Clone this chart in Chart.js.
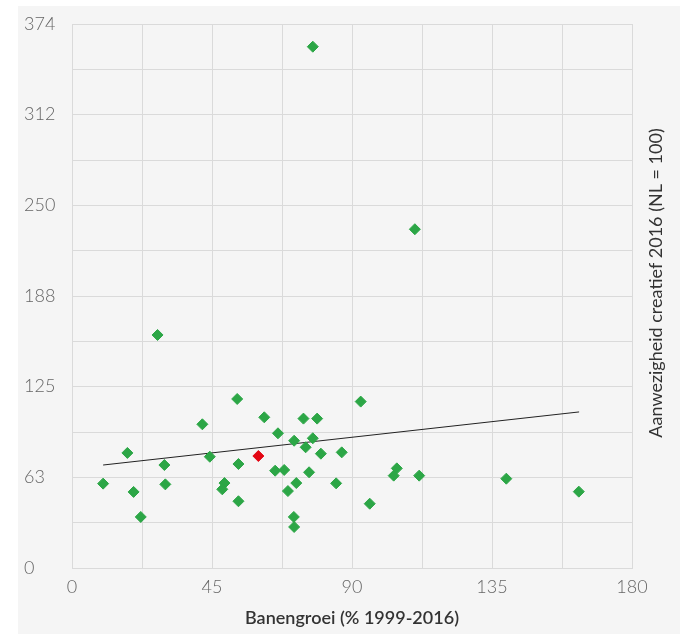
<!doctype html>
<html>
	<head>
		<title>Banengroei vs creatief</title>
		<script src="https://cdn.jsdelivr.net/npm/chart.js@4.4.1/dist/chart.umd.min.js"></script>
		<style>
			body { margin: 0; background: #ffffff; }
			#panel { position: absolute; left: 18px; top: 6px; width: 662px; height: 628px; background: #f5f5f5; }
		</style>
	</head>
	<body>
		<div id="panel">
			<canvas id="canvas" width="662" height="628"></canvas>
		</div>

	<script>
	// gemeenten (groen)
	var groeiX = [27.5, 53.1, 41.9, 61.8, 66.2, 74.4, 78.8, 71.4, 77.4, 75.1, 80.0, 86.7, 17.8, 44.3,
		29.7, 53.5, 65.3, 68.2, 76.2, 10.0, 30.0, 49.0, 48.3, 19.8, 69.4, 72.1, 84.9, 53.5, 22.1,
		71.3, 71.4, 92.8, 104.4, 103.4, 111.6, 95.7, 139.6, 162.9, 77.4, 110.2];
	var creatiefY = [160.2, 116.2, 98.8, 103.6, 92.6, 102.7, 102.7, 87.5, 89.2, 83.0, 78.6, 79.5, 79.1, 76.5,
		70.8, 71.5, 66.9, 67.4, 65.8, 58.0, 57.5, 58.4, 54.1, 52.3, 52.9, 58.4, 58.2, 45.9, 35.1,
		35.1, 28.2, 114.4, 68.5, 63.5, 63.5, 44.2, 61.4, 52.5, 358.4, 232.9];

	// uitgelichte gemeente (rood)
	var roodX = [59.9];
	var roodY = [77.0];

	// trendlijn
	var trendX = [10, 163];
	var trendY = [70.8, 107.3];

	var yTickLabels = ["0", "63", "125", "188", "250", "312", "374"];
	var xTickLabels = ["0", "45", "90", "135", "180"];

	var toPoints = function(xs, ys){
		var pts = [];
		for(var i=0; i<xs.length; i++){ pts.push({x: xs[i], y: ys[i]}); }
		return pts;
	};

	var yTitlePlugin = {
		id: 'yTitle',
		afterDraw: function(chart){
			var ctx = chart.ctx;
			ctx.save();
			ctx.translate(638.5, 277);
			ctx.rotate(-Math.PI/2);
			ctx.font = '18px Lato';
			ctx.fillStyle = '#333333';
			ctx.textAlign = 'center';
			ctx.textBaseline = 'middle';
			ctx.fillText('Aanwezigheid creatief 2016 (NL = 100)', 0, 0);
			ctx.restore();
		}
	};

	var gridColor = '#dadada';

	window.onload = function(){
		var ctx = document.getElementById("canvas").getContext("2d");
		window.myChart = new Chart(ctx, {
			type: 'scatter',
			data: {
				datasets: [
					{
						data: toPoints(trendX, trendY),
						showLine: true,
						borderColor: '#222222',
						borderWidth: 1,
						pointRadius: 0,
						order: 3
					},
					{
						data: toPoints(groeiX, creatiefY),
						pointStyle: 'rectRot',
						pointRadius: 5.5,
						backgroundColor: '#2ca646',
						borderColor: '#2ca646',
						borderWidth: 1,
						order: 2
					},
					{
						data: toPoints(roodX, roodY),
						pointStyle: 'rectRot',
						pointRadius: 5.5,
						backgroundColor: '#e30613',
						borderColor: '#e30613',
						borderWidth: 1,
						order: 1
					}
				]
			},
			options: {
				responsive: false,
				devicePixelRatio: 1,
				animation: false,
				layout: { padding: { left: 6, right: 48, top: 18, bottom: 0 } },
				plugins: { legend: { display: false }, tooltip: { enabled: false } },
				scales: {
					x: {
						type: 'linear',
						min: 0, max: 180,
						afterBuildTicks: function(scale){
							var t = [];
							for(var i=0; i<=8; i++){ t.push({value: i*22.5}); }
							scale.ticks = t;
						},
						afterFit: function(scale){ scale.height = 66; },
						grid: { color: gridColor, lineWidth: 1, drawTicks: false },
						border: { color: gridColor },
						ticks: {
							padding: 8,
							color: '#666666',
							font: { family: 'Lato', size: 18, weight: '300' },
							maxRotation: 0,
							autoSkip: false,
							callback: function(value, index){ return index % 2 === 0 ? xTickLabels[index/2] : ''; }
						},
						title: {
							display: true,
							text: 'Banengroei (% 1999-2016)',
							color: '#333333',
							font: { family: 'Lato', size: 18, weight: '600' },
							padding: { top: 0, bottom: 5 }
						}
					},
					y: {
						type: 'linear',
						min: 0, max: 374,
						afterBuildTicks: function(scale){
							var t = [];
							for(var i=0; i<=12; i++){ t.push({value: i*374/12}); }
							scale.ticks = t;
						},
						afterFit: function(scale){ scale.width = 48; },
						grid: { color: gridColor, lineWidth: 1, drawTicks: false },
						border: { color: gridColor },
						ticks: {
							crossAlign: 'far',
							padding: 0,
							color: '#666666',
							font: { family: 'Lato', size: 18, weight: '300' },
							autoSkip: false,
							callback: function(value, index){ return index % 2 === 0 ? yTickLabels[index/2] : ''; }
						}
					}
				}
			},
			plugins: [yTitlePlugin]
		});
	};
	</script>
	</body>
</html>
